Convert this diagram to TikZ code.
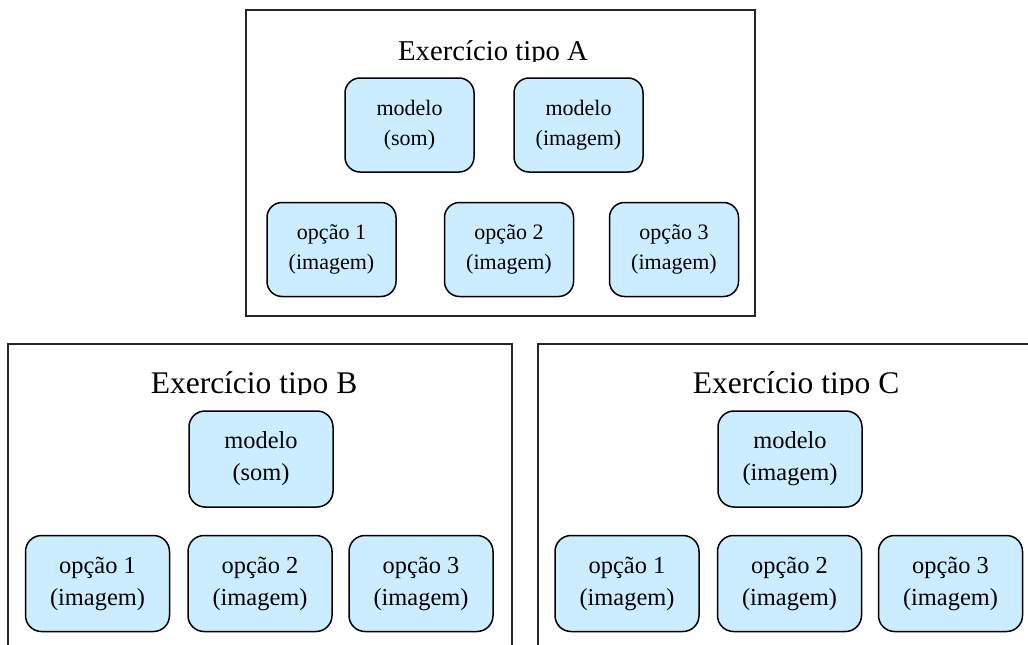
\documentclass[tikz,border=0pt]{standalone}
\usepackage{fontspec}
\setmainfont{Liberation Serif}
\definecolor{boxfill}{HTML}{CCECFF}
\tikzset{
  frame/.style={draw=black!85, line width=1.6pt},
  itemA/.style={draw=black, line width=1.5pt, fill=boxfill, rounded corners=15pt,
    minimum width=129pt, minimum height=94pt, align=center, inner sep=0pt,
    font=\fontsize{22}{30}\selectfont},
  itemB/.style={draw=black, line width=1.5pt, fill=boxfill, rounded corners=16pt,
    minimum width=144pt, minimum height=96pt, align=center, inner sep=0pt,
    font=\fontsize{24.4}{32}\selectfont},
  titleA/.style={anchor=base, inner sep=0pt, font=\fontsize{28.7}{34}\selectfont},
  titleB/.style={anchor=base, inner sep=0pt, font=\fontsize{31.5}{38}\selectfont},
}
\begin{document}
\begin{tikzpicture}[x=1pt, y=-1pt]
\clip (0,0) rectangle (1028,645);

% exercise type A
\draw[frame] (246,10) rectangle (755,316);
\begin{scope}
  \clip (246,10) rectangle (755,61);
  \node[titleA] (tA) at (493,60) {Exercício tipo A};
\end{scope}
\node[itemA] (a1) at (409.5,125) {modelo\\(som)};
\node[itemA] (a2) at (578.5,125) {modelo\\(imagem)};
\node[itemA] (a3) at (331.5,249.5) {opção 1\\(imagem)};
\node[itemA] (a4) at (509,249.5) {opção 2\\(imagem)};
\node[itemA] (a5) at (674,249.5) {opção 3\\(imagem)};

% exercise type B
\draw[frame] (8,344) rectangle (512,680);
\begin{scope}
  \clip (8,344) rectangle (512,394);
  \node[titleB] (tB) at (254,393) {Exercício tipo B};
\end{scope}
\node[itemB] (b1) at (261,459) {modelo\\(som)};
\node[itemB] (b2) at (97.5,583.5) {opção 1\\(imagem)};
\node[itemB] (b3) at (260,583.5) {opção 2\\(imagem)};
\node[itemB] (b4) at (421,583.5) {opção 3\\(imagem)};

% exercise type C
\draw[frame] (538,344) rectangle (1060,680);
\begin{scope}
  \clip (538,344) rectangle (1028,394);
  \node[titleB] (tC) at (796,393) {Exercício tipo C};
\end{scope}
\node[itemB] (c1) at (790,459) {modelo\\(imagem)};
\node[itemB] (c2) at (627,583.5) {opção 1\\(imagem)};
\node[itemB] (c3) at (789.5,583.5) {opção 2\\(imagem)};
\node[itemB] (c4) at (950.5,583.5) {opção 3\\(imagem)};
\end{tikzpicture}
\end{document}
